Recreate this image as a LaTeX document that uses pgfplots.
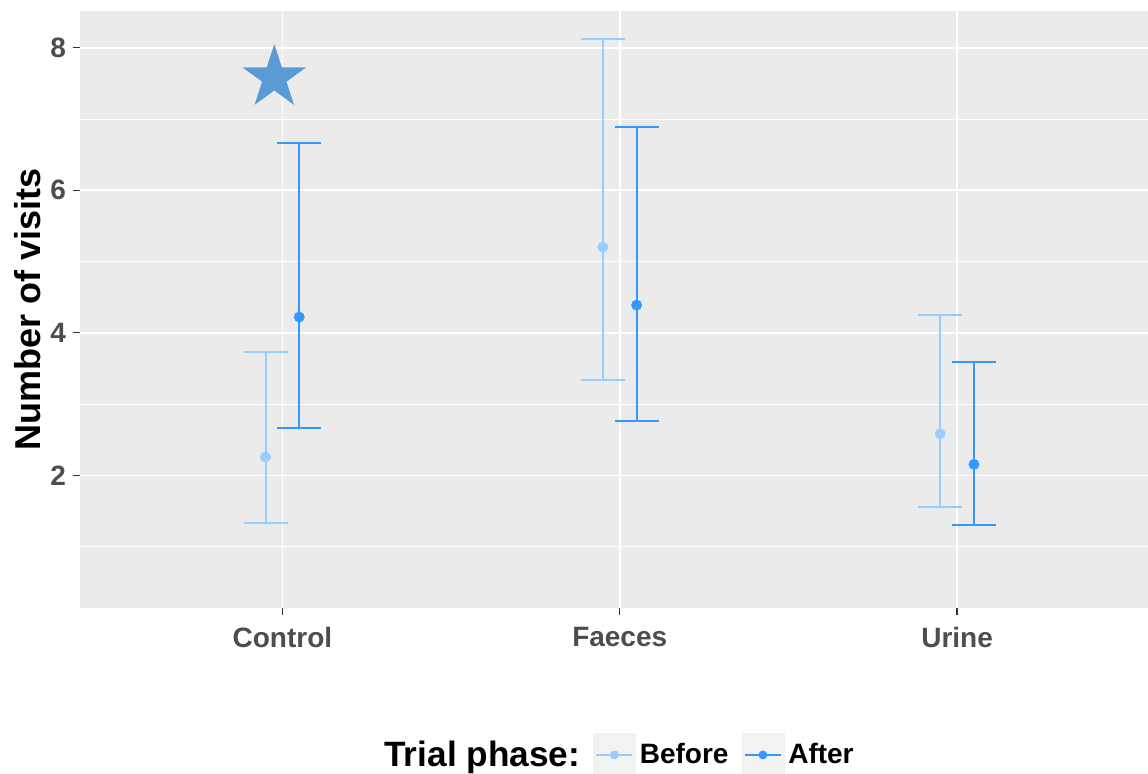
\documentclass[border=0pt]{standalone}
\usepackage{pgfplots}
\usepackage{pgfplotstable}
\pgfplotsset{compat=1.18}
\usepackage{fontspec}
\setmainfont{Liberation Sans}
\definecolor{ggbg}{HTML}{EBEBEB}
\definecolor{cBefore}{HTML}{99CCFF}
\definecolor{cAfter}{HTML}{3399FF}
\definecolor{cStar}{HTML}{5B9BD5}
\definecolor{grey30}{HTML}{4D4D4D}
\definecolor{grey20}{HTML}{333333}
\definecolor{keybg}{HTML}{F2F2F2}

\pgfdeclareplotmark{fstar}{%
  \pgfpathmoveto{\pgfpointpolar{90}{\pgfplotmarksize}}%
  \pgfpathlineto{\pgfpointpolar{126}{0.382\pgfplotmarksize}}%
  \pgfpathlineto{\pgfpointpolar{162}{\pgfplotmarksize}}%
  \pgfpathlineto{\pgfpointpolar{198}{0.382\pgfplotmarksize}}%
  \pgfpathlineto{\pgfpointpolar{234}{\pgfplotmarksize}}%
  \pgfpathlineto{\pgfpointpolar{270}{0.382\pgfplotmarksize}}%
  \pgfpathlineto{\pgfpointpolar{306}{\pgfplotmarksize}}%
  \pgfpathlineto{\pgfpointpolar{342}{0.382\pgfplotmarksize}}%
  \pgfpathlineto{\pgfpointpolar{18}{\pgfplotmarksize}}%
  \pgfpathlineto{\pgfpointpolar{54}{0.382\pgfplotmarksize}}%
  \pgfpathclose
  \pgfusepathqfill}

\pgfplotstableread{
x y lo hi
0.95 2.258 1.332 3.731
1.95 5.203 3.338 8.121
2.95 2.585 1.561 4.254
}\tbefore
\pgfplotstableread{
x y lo hi
1.05 4.222 2.665 6.658
2.05 4.390 2.763 6.891
3.05 2.155 1.304 3.586
}\tafter
\pgfplotstableread{
x y
0.976 7.58
}\tstar

\begin{document}
\begin{tikzpicture}
\path[use as bounding box] (0,0) rectangle (574pt,387pt);
\begin{axis}[
  at={(40pt,83pt)}, anchor=south west,
  scale only axis, width=534pt, height=298.65pt,
  xmin=0.40, xmax=3.566, ymin=0.14, ymax=8.52,
  axis background/.style={fill=ggbg},
  axis line style={draw=none},
  xtick={1,2,3}, xticklabels={Control,Faeces,Urine},
  ytick={2,4,6,8}, minor ytick={1,3,5,7},
  xtick pos=bottom, ytick pos=left,
  tick align=outside, major tick length=3.5pt, minor tick length=0pt,
  tick style={grey20, line width=0.6pt},
  xmajorgrids, ymajorgrids, yminorgrids,
  major grid style={white, line width=0.9pt},
  minor grid style={white, line width=0.5pt},
  /pgf/number format/assume math mode=true,
  tick label style={font=\bfseries\fontsize{14}{16}\selectfont, text=grey30},
  xticklabel style={yshift=-2.5pt},
  ylabel={Number of visits},
  ylabel style={at={(rel axis cs:-0.0487,0.5)}, anchor=center, font=\bfseries\fontsize{18}{20}\selectfont, text=black},
  legend style={draw=none, fill=none, at={(0.2809,-0.246)}, anchor=west,
    legend columns=-1, inner sep=0pt,
    font=\bfseries\fontsize{14}{16}\selectfont,
    /tikz/every even column/.append style={column sep=4.5pt}},
  legend cell align=left,
]
\addlegendimage{empty legend}
\addlegendentry{{\fontsize{17.6}{20}\selectfont Trial phase:}}
\addlegendimage{legend image code/.code={
  \fill[keybg] (0pt,-11pt) rectangle (21pt,11pt);
  \draw[cBefore, line width=1pt] (1.5pt,0pt) -- (19.5pt,0pt);
  \fill[cBefore] (10.5pt,0pt) circle (2pt);}}
\addlegendentry{Before}
\addlegendimage{legend image code/.code={
  \fill[keybg] (0pt,-11pt) rectangle (21pt,11pt);
  \draw[cAfter, line width=1pt] (1.5pt,0pt) -- (19.5pt,0pt);
  \fill[cAfter] (10.5pt,0pt) circle (2pt);}}
\addlegendentry{After}

\addplot[cBefore, only marks, mark=*, mark size=2.5pt, forget plot,
  error bars/.cd, y dir=both, y explicit,
  error bar style={line width=1pt, cBefore},
  error mark options={rotate=90, mark size=11pt, line width=1pt, cBefore}]
  table[x=x, y=y, y error plus expr=\thisrow{hi}-\thisrow{y}, y error minus expr=\thisrow{y}-\thisrow{lo}] {\tbefore};
\addplot[cAfter, only marks, mark=*, mark size=2.5pt, forget plot,
  error bars/.cd, y dir=both, y explicit,
  error bar style={line width=1pt, cAfter},
  error mark options={rotate=90, mark size=11pt, line width=1pt, cAfter}]
  table[x=x, y=y, y error plus expr=\thisrow{hi}-\thisrow{y}, y error minus expr=\thisrow{y}-\thisrow{lo}] {\tafter};
\addplot[only marks, mark=fstar, mark size=16.8pt, cStar, forget plot] table[x=x, y=y] {\tstar};
\end{axis}
\end{tikzpicture}
\end{document}
